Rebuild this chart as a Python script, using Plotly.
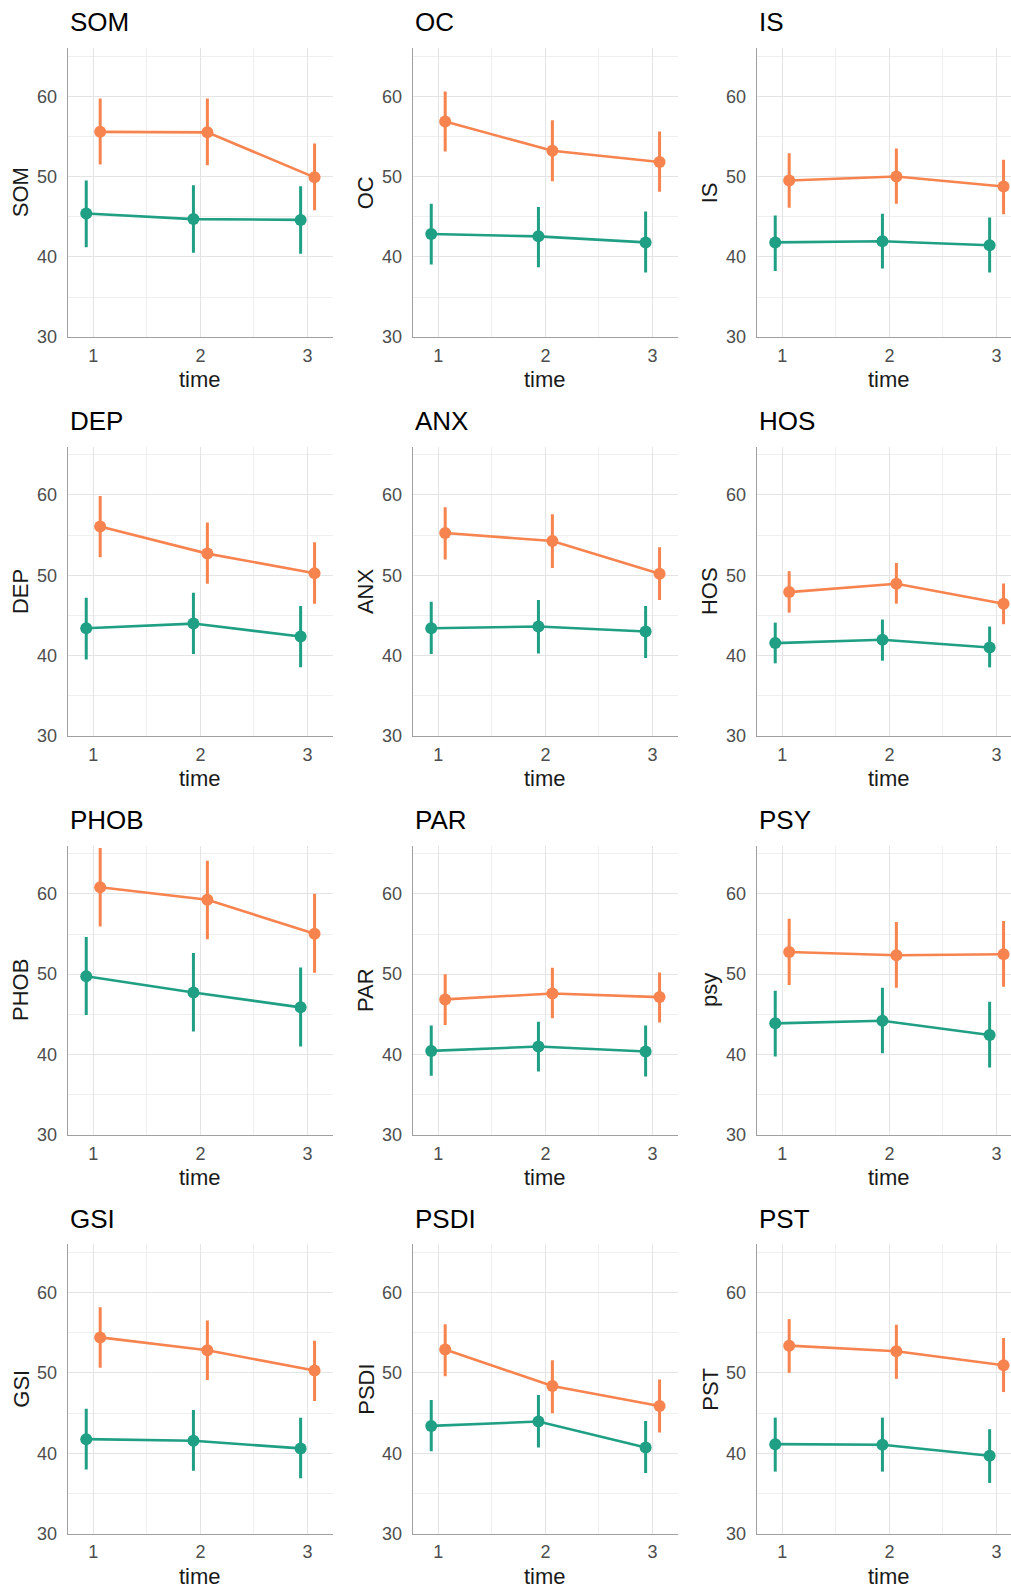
import plotly.graph_objects as go

# ---------------- data ----------------
scales = ["SOM", "OC", "IS", "DEP", "ANX", "HOS", "PHOB", "PAR", "PSY", "GSI", "PSDI", "PST"]
ylabels = ["SOM", "OC", "IS", "DEP", "ANX", "HOS", "PHOB", "PAR", "psy", "GSI", "PSDI", "PST"]
times = [1, 2, 3]
x_ticks = [1, 2, 3]
y_ticks = [30, 40, 50, 60]

orange_mean = [
    [55.56, 55.50, 49.90], [56.85, 53.20, 51.80], [49.50, 50.00, 48.75],
    [56.08, 52.70, 50.26], [55.26, 54.27, 50.18], [47.91, 48.94, 46.47],
    [60.83, 59.26, 55.04], [46.86, 47.60, 47.15], [52.77, 52.36, 52.48],
    [54.43, 52.82, 50.31], [52.91, 48.37, 45.89], [53.40, 52.70, 50.97],
]
orange_hi = [
    [59.70, 59.70, 54.10], [60.60, 57.00, 55.60], [52.90, 53.50, 52.10],
    [59.88, 56.58, 54.10], [58.48, 57.61, 53.48], [50.51, 51.54, 48.98],
    [65.70, 64.13, 60.00], [50.00, 50.79, 50.21], [56.90, 56.49, 56.61],
    [58.19, 56.54, 54.02], [56.08, 51.58, 49.19], [56.70, 56.00, 54.35],
]
orange_lo = [
    [51.50, 51.40, 45.80], [53.10, 49.40, 48.10], [46.10, 46.60, 45.30],
    [52.25, 48.94, 46.47], [51.96, 50.92, 46.92], [45.35, 46.47, 43.91],
    [55.95, 54.34, 50.17], [43.68, 44.50, 44.00], [48.64, 48.31, 48.43],
    [50.64, 49.11, 46.51], [49.60, 44.98, 42.59], [50.02, 49.27, 47.62],
]
teal_mean = [
    [45.40, 44.70, 44.60], [42.85, 42.55, 41.80], [41.80, 41.95, 41.45],
    [43.41, 43.99, 42.38], [43.41, 43.62, 43.00], [41.56, 41.97, 41.02],
    [49.75, 47.73, 45.87], [40.45, 40.99, 40.37], [43.88, 44.21, 42.44],
    [41.76, 41.56, 40.61], [43.41, 43.95, 40.73], [41.14, 41.06, 39.70],
]
teal_hi = [
    [49.50, 48.90, 48.80], [46.60, 46.20, 45.65], [45.15, 45.35, 44.90],
    [47.21, 47.83, 46.18], [46.71, 46.92, 46.18], [44.11, 44.49, 43.62],
    [54.63, 52.64, 50.83], [43.60, 44.09, 43.60], [47.93, 48.31, 46.57],
    [45.56, 45.39, 44.44], [46.63, 47.25, 44.03], [44.44, 44.44, 43.00],
]
teal_lo = [
    [41.20, 40.50, 40.40], [39.05, 38.70, 38.05], [38.25, 38.55, 38.05],
    [39.53, 40.19, 38.54], [40.19, 40.28, 39.70], [39.04, 39.37, 38.54],
    [44.92, 42.85, 40.99], [37.36, 37.89, 37.27], [39.75, 40.17, 38.39],
    [37.97, 37.84, 36.89], [40.24, 40.73, 37.55], [37.72, 37.72, 36.31],
]

# ---------------- styling / layout constants ----------------
W, H = 1011, 1595
ORANGE = "#F7834F"
TEAL = "#1F9F84"
DODGE = 0.065
FONT = "Liberation Sans, Arial, Helvetica, sans-serif"

col_left = [67.7, 412.7, 756.7]
row_top = [48.3, 449.6, 851.0, 1252.3]
panel_w = 265.4
panel_h = 291.0
xr0, xr1 = 0.762, 3.238
units_per_px = (xr1 - xr0) / panel_w
yr = [30, 66]

GRID = "#E4E4E4"
MINOR = "#EFEFEF"
AXLINE = "#A0A0A0"
TICKCOL = "#4D4D4D"

fig = go.Figure()
annotations = []
layout_axes = {}

series = [
    (teal_mean, teal_hi, teal_lo, TEAL, -DODGE),
    (orange_mean, orange_hi, orange_lo, ORANGE, DODGE),
]

for i, name in enumerate(scales):
    r, c = divmod(i, 3)
    n = i + 1
    xs = "x" if n == 1 else f"x{n}"
    ys = "y" if n == 1 else f"y{n}"
    for mean_a, hi_a, lo_a, col, off in series:
        m = mean_a[i]
        hi = hi_a[i]
        lo = lo_a[i]
        fig.add_trace(go.Scatter(
            x=[t + off for t in times], y=m,
            mode="lines+markers",
            line=dict(color=col, width=2.6),
            marker=dict(color=col, size=12),
            error_y=dict(type="data", symmetric=False,
                         array=[h - v for h, v in zip(hi, m)],
                         arrayminus=[v - l for v, l in zip(m, lo)],
                         width=0, thickness=3, color=col),
            xaxis=xs, yaxis=ys, showlegend=False, hoverinfo="skip",
            cliponaxis=False,
        ))

    left = col_left[c]
    right = left + panel_w
    x_hi = xr1
    if right > W:
        x_hi = xr0 + (W - left) * units_per_px
        right = W
    top = row_top[r]
    bottom = top + panel_h

    xa = dict(
        domain=[left / W, right / W], range=[xr0, x_hi], anchor=ys,
        tickvals=x_ticks, ticktext=[str(t) for t in x_ticks],
        showgrid=True, gridcolor=GRID, gridwidth=1.2,
        minor=dict(tickvals=[1.5, 2.5], showgrid=True, gridcolor=MINOR, gridwidth=1),
        showline=True, linecolor=AXLINE, linewidth=1.3,
        ticks="", zeroline=False, ticklabelstandoff=2,
        tickfont=dict(family=FONT, size=18, color=TICKCOL), fixedrange=True,
    )
    ya = dict(
        domain=[1 - bottom / H, 1 - top / H], range=yr, anchor=xs,
        tickvals=y_ticks, ticktext=[str(t) for t in y_ticks],
        showgrid=True, gridcolor=GRID, gridwidth=1.2,
        minor=dict(tickvals=[35, 45, 55, 65], showgrid=True, gridcolor=MINOR, gridwidth=1),
        showline=True, linecolor=AXLINE, linewidth=1.3,
        ticks="", zeroline=False, ticklabelstandoff=6,
        tickfont=dict(family=FONT, size=18, color=TICKCOL), fixedrange=True,
    )
    layout_axes["xaxis" if n == 1 else f"xaxis{n}"] = xa
    layout_axes["yaxis" if n == 1 else f"yaxis{n}"] = ya

    # panel title
    annotations.append(dict(
        text=name, x=left / W, y=1 - (top - 26.0) / H, xref="paper", yref="paper",
        xanchor="left", yanchor="middle", showarrow=False,
        font=dict(family=FONT, size=26, color="#000000"),
    ))
    # y-axis title
    annotations.append(dict(
        text=ylabels[i], x=(left - 47) / W, y=1 - (top + panel_h / 2) / H,
        xref="paper", yref="paper", xanchor="center", yanchor="middle",
        textangle=-90, showarrow=False,
        font=dict(family=FONT, size=22, color="#1A1A1A"),
    ))
    # x-axis title
    annotations.append(dict(
        text="time", x=(col_left[c] + panel_w / 2) / W, y=1 - (bottom + 43.0) / H,
        xref="paper", yref="paper", xanchor="center", yanchor="middle",
        showarrow=False,
        font=dict(family=FONT, size=22, color="#1A1A1A"),
    ))

fig.update_layout(
    width=W, height=H,
    margin=dict(l=0, r=0, t=0, b=0),
    paper_bgcolor="white", plot_bgcolor="white",
    showlegend=False,
    annotations=annotations,
    **layout_axes,
)

fig.write_html(
    "out.html",
    config={"displayModeBar": False},
    post_script="document.body.style.margin='0';document.body.style.overflow='hidden';",
)
